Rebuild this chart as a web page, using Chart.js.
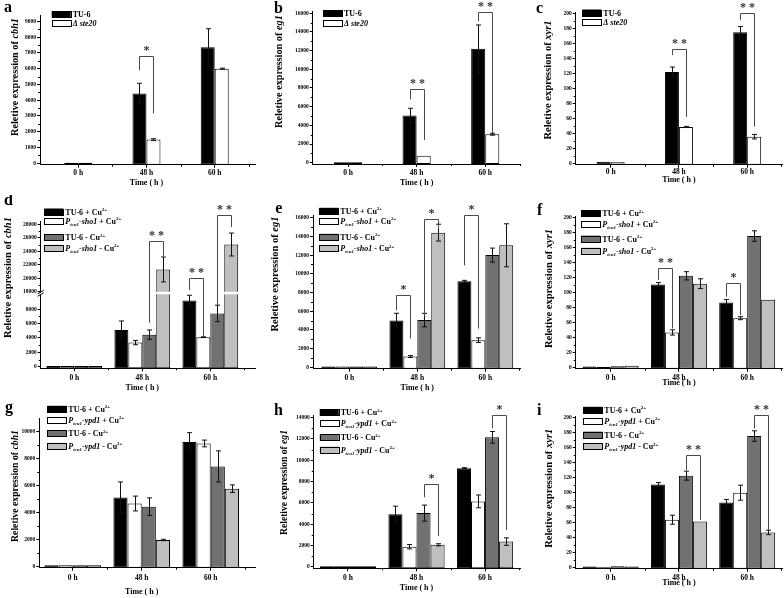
<!DOCTYPE html>
<html>
<head>
<meta charset="utf-8">
<script src="https://cdn.jsdelivr.net/npm/chart.js@4.4.0/dist/chart.umd.min.js"></script>
<style>
body{margin:0;background:#fff}
#fig{position:relative;width:784px;height:598px;overflow:hidden;background:#fff}
#fig canvas{position:absolute}
</style>
</head>
<body>
<div id="fig"></div>
<script>
// categories and legend texts (*..* italic, _{..} subscript, ^{..} superscript)
const times = ['0 h', '48 h', '60 h'];
const ste20Labels = ['TU-6', '*Δ ste20*'];
const sho1Labels = ['TU-6 + Cu^{2+}', '*P*_{tcu1}*-sho1* + Cu^{2+}', 'TU-6 - Cu^{2+}', '*P*_{tcu1}*-sho1* - Cu^{2+}'];
const ypd1Labels = ['TU-6 + Cu^{2+}', '*P*_{tcu1}*-ypd1* + Cu^{2+}', 'TU-6 - Cu^{2+}', '*P*_{tcu1}*-ypd1* - Cu^{2+}'];

// values per series (rows) and time point (columns), with error bars
const aVals = [[40, 4430, 7350], [30, 1500, 6000]];
const aErrs = [[0, 640, 1180], [0, 60, 30]];
const bVals = [[60, 5050, 12200], [50, 750, 3050]];
const bErrs = [[0, 780, 2550], [0, 0, 100]];
const cVals = [[2, 122, 175], [1.5, 48.5, 35.5]];
const cErrs = [[0, 6.5, 7.5], [0, 0.8, 3]];
const dVals = [[100, 5100, 9200], [100, 3350, 4100], [100, 4450, 7400], [100, 21300, 25000]];
const dErrs = [[0, 1250, 720], [0, 300, 50], [0, 650, 1150], [0, 1850, 1700]];
const eVals = [[80, 5000, 9200], [80, 1150, 2900], [80, 5050, 12000], [80, 14400, 13050]];
const eErrs = [[0, 780, 100], [0, 100, 250], [0, 720, 750], [0, 900, 2300]];
const fVals = [[1.5, 111, 87], [1, 47, 66], [2, 122.5, 175.5], [2.5, 112, 90.5]];
const fErrs = [[0, 2.5, 4], [0, 3.5, 2], [0, 5.5, 7], [0, 6.5, 0]];
const gVals = [[80, 5100, 9200], [80, 4650, 9100], [80, 4420, 7400], [80, 1950, 5750]];
const gErrs = [[0, 1150, 700], [0, 550, 250], [0, 650, 1150], [0, 50, 280]];
const hVals = [[80, 4950, 9250], [80, 1900, 6150], [80, 5050, 12150], [80, 2080, 2380]];
const hErrs = [[0, 750, 60], [0, 200, 600], [0, 750, 550], [0, 100, 350]];
const iVals = [[1.5, 111, 87], [0.5, 64, 100], [2, 122.7, 175.5], [1.5, 61.5, 47]];
const iErrs = [[0, 2.5, 4], [0, 6, 10], [0, 6, 7], [0, 0, 3]];

// y tick labels
const aTicks = [0, 1000, 2000, 3000, 4000, 5000, 6000, 7000, 8000, 9000];
const bTicks = [0, 2000, 4000, 6000, 8000, 10000, 12000, 14000, 16000];
const cTicks = [0, 20, 40, 60, 80, 100, 120, 140, 160, 180, 200];
const dTicks = [0, 2000, 4000, 6000, 8000, 18000, 20000, 22000, 24000, 26000, 28000];
const eTicks = [0, 2000, 4000, 6000, 8000, 10000, 12000, 14000, 16000];
const fTicks = [0, 20, 40, 60, 80, 100, 120, 140, 160, 180, 200];
const gTicks = [0, 2000, 4000, 6000, 8000, 10000];
const hTicks = [0, 2000, 4000, 6000, 8000, 10000, 12000, 14000];
const iTicks = [0, 20, 40, 60, 80, 100, 120, 140, 160, 180, 200];

// significance brackets: [time index, series A, series B, top, end A, end B, mark]
const aSig = [[1, 0, 1, 6800, 5900, 3170, '*']];
const bSig = [[1, 0, 1, 7850, 6790, 2430, '**'], [2, 0, 1, 16170, 15170, 3150, '**']];
const cSig = [[1, 0, 1, 153, 144.5, 62, '**'], [2, 0, 1, 201, 191, 48.8, '**']];
const dSig = [[1, 2, 3, 25500, 6100, 23200, '**'], [2, 0, 1, 20000, 18250, 4170, '**'], [2, 2, 3, 29380, 8570, 27600, '**']];
const eSig = [[1, 0, 1, 7700, 6100, 3070, '*'], [1, 2, 3, 15900, 5500, 14800, '*'], [2, 0, 1, 16300, 10900, 4140, '*']];
const fSig = [[1, 0, 1, 133.3, 116.9, 52.4, '**'], [2, 0, 1, 113.3, 94.7, 70.2, '*']];
const gSig = [];
const hSig = [[1, 2, 3, 7780, 6530, 2900, '*'], [2, 2, 3, 14250, 13000, 3470, '*']];
const iSig = [[1, 2, 3, 150.2, 130.2, 63.6, '**'], [2, 2, 3, 203.6, 185.8, 50.2, '**']];

const SERIF = '"Liberation Serif", "Times New Roman", serif';
const fills = ['#000000', '#ffffff', '#717171', '#bfbfbf'];

const panels = [
  {id: 'a', gene: 'cbh1', labels: ste20Labels, vals: aVals, errs: aErrs, ticks: aTicks, sig: aSig},
  {id: 'b', gene: 'eg1', labels: ste20Labels, vals: bVals, errs: bErrs, ticks: bTicks, sig: bSig},
  {id: 'c', gene: 'xyr1', labels: ste20Labels, vals: cVals, errs: cErrs, ticks: cTicks, sig: cSig},
  {id: 'd', gene: 'cbh1', labels: sho1Labels, vals: dVals, errs: dErrs, ticks: dTicks, sig: dSig},
  {id: 'e', gene: 'eg1', labels: sho1Labels, vals: eVals, errs: eErrs, ticks: eTicks, sig: eSig},
  {id: 'f', gene: 'xyr1', labels: sho1Labels, vals: fVals, errs: fErrs, ticks: fTicks, sig: fSig},
  {id: 'g', gene: 'cbh1', labels: ypd1Labels, vals: gVals, errs: gErrs, ticks: gTicks, sig: gSig},
  {id: 'h', gene: 'eg1', labels: ypd1Labels, vals: hVals, errs: hErrs, ticks: hTicks, sig: hSig},
  {id: 'i', gene: 'xyr1', labels: ypd1Labels, vals: iVals, errs: iErrs, ticks: iTicks, sig: iSig}
];

// placement of each panel (pixels inside its own canvas)
const layout = {
  a: {x: 0, y: 0, w: 262, h: 195, left: 40, right: 255, top: 15, bottom: 164.7, yMin: -90, yMax: 9400, xMin: -0.56, xMax: 2.59, cat: 0.41, tickY: 173.3, timeY: 182.7, tx: 15, ty: 77, tlen: 118, lx: 4, ly: 12, legX: 51.7, legY: [14.2, 23.3]},
  b: {x: 262, y: 0, w: 262, h: 195, left: 50.7, right: 258, top: 11.7, bottom: 164, yMin: -140, yMax: 16170, xMin: -0.515, xMax: 2.507, cat: 0.41, tickY: 173.3, timeY: 182.7, tx: 16.7, ty: 71.5, tlen: 113, lx: 12, ly: 13, legX: 61, legY: [13.3, 22.7]},
  c: {x: 524, y: 0, w: 260, h: 195, left: 51.7, right: 258, top: 12.7, bottom: 164.7, yMin: -1.9, yMax: 201, xMin: -0.512, xMax: 2.51, cat: 0.41, tickY: 172.5, timeY: 180, tx: 24, ty: 80, tlen: 134, lx: 12, ly: 13, legX: 58.3, legY: [12.7, 22.3]},
  d: {x: 0, y: 195, w: 262, h: 200, left: 40.7, right: 255, top: 26.7, bottom: 173.3, yMin: -222, yMax: 20139, xMin: -0.494, xMax: 2.657, cat: 0.82, tickY: 183.3, timeY: 192.7, tx: 8, ty: 82.5, tlen: 135, lx: 4, ly: 10, legX: 44.3, legY: [16.7, 25.7, 42.3, 53],
      brk: {from: 18000, to: 10417, k: 0.936, lo: 10060, hi: 10400}},
  e: {x: 262, y: 195, w: 262, h: 200, left: 51, right: 258, top: 20.7, bottom: 173.7, yMin: -150, yMax: 16214, xMin: -0.534, xMax: 2.51, cat: 0.82, tickY: 183.3, timeY: 192.7, tx: 12.7, ty: 79, tlen: 118, lx: 13.3, ly: 18, legX: 57.3, legY: [16, 25.7, 42, 53.3]},
  f: {x: 524, y: 195, w: 260, h: 200, left: 51.7, right: 258, top: 21.7, bottom: 173.7, yMin: -1.33, yMax: 201.3, xMin: -0.512, xMax: 2.51, cat: 0.82, tickY: 182.7, timeY: 188.3, tx: 25, ty: 93.5, tlen: 127, lx: 13, ly: 20, legX: 57.3, legY: [18.2, 28.7, 43.7, 55.8]},
  g: {x: 0, y: 395, w: 262, h: 203, left: 39.3, right: 255, top: 23.3, bottom: 172.7, yMin: -104, yMax: 10963, xMin: -0.484, xMax: 2.642, cat: 0.82, tickY: 183.3, timeY: 197.3, tx: 15, ty: 91, tlen: 112, lx: 5, ly: 17, legX: 47.3, legY: [14, 25, 38.5, 51]},
  h: {x: 262, y: 395, w: 262, h: 203, left: 51.7, right: 258, top: 20.7, bottom: 173.3, yMin: -122, yMax: 14180, xMin: -0.5, xMax: 2.51, cat: 0.82, tickY: 183.3, timeY: 192.7, tx: 21.7, ty: 87.5, tlen: 105, lx: 12, ly: 20, legX: 57.7, legY: [17.3, 28.5, 42.3, 54.7]},
  i: {x: 524, y: 395, w: 260, h: 203, left: 51.7, right: 258, top: 21.7, bottom: 173.7, yMin: -1.33, yMax: 201.3, xMin: -0.512, xMax: 2.51, cat: 0.82, tickY: 182.7, timeY: 188.3, tx: 25, ty: 93.3, tlen: 123, lx: 13, ly: 20, legX: 59.3, legY: [15, 25.7, 39.7, 51.3]}
};

function tr(v, brk) {
  return (!brk || v < brk.from) ? v : brk.to + (v - brk.from) * brk.k;
}

function parseRich(s) {
  const segs = [];
  let it = false, buf = '', i = 0;
  const flush = () => { if (buf) segs.push({t: buf, it: it, mode: ''}); buf = ''; };
  while (i < s.length) {
    const c = s[i];
    if (c === '*') { flush(); it = !it; i++; }
    else if ((c === '_' || c === '^') && s[i + 1] === '{') {
      flush();
      const j = s.indexOf('}', i);
      segs.push({t: s.slice(i + 2, j), it: c === '_' ? true : it, mode: c === '_' ? 'sub' : 'sup'});
      i = j + 1;
    } else { buf += c; i++; }
  }
  flush();
  return segs;
}

function richWidth(ctx, segs, size) {
  let w = 0;
  segs.forEach(s => {
    ctx.font = (s.it ? 'italic ' : '') + 'bold ' + (s.mode ? size * 0.62 : size) + 'px ' + SERIF;
    s.w = ctx.measureText(s.t).width;
    w += s.w;
  });
  return w;
}

function drawRich(ctx, segs, x, y, size, center) {
  const w = richWidth(ctx, segs, size);
  let cx = center ? x - w / 2 : x;
  ctx.textAlign = 'left';
  ctx.textBaseline = 'alphabetic';
  ctx.fillStyle = '#000';
  segs.forEach(s => {
    ctx.font = (s.it ? 'italic ' : '') + 'bold ' + (s.mode ? size * 0.62 : size) + 'px ' + SERIF;
    const dy = s.mode === 'sub' ? size * 0.25 : s.mode === 'sup' ? -size * 0.42 : 0;
    ctx.fillText(s.t, cx, y + dy);
    cx += s.w;
  });
}

function seg(ctx, x1, y1, x2, y2) {
  ctx.beginPath();
  ctx.moveTo(x1, y1);
  ctx.lineTo(x2, y2);
  ctx.stroke();
}

const fig = document.getElementById('fig');

panels.forEach(p => {
  const L = layout[p.id];
  const T = v => tr(v, L.brk);

  const cv = document.createElement('canvas');
  cv.width = L.w;
  cv.height = L.h;
  cv.style.left = L.x + 'px';
  cv.style.top = L.y + 'px';
  fig.appendChild(cv);

  // bars stand on the axis line, which sits a little below zero
  const datasets = p.vals.map((vals, k) => ({
    label: p.labels[k],
    data: vals.map((v, i) => ({x: i, y: T(v)})),
    errLo: vals.map((v, i) => T(v - p.errs[k][i])),
    errHi: vals.map((v, i) => T(v + p.errs[k][i])),
    hasErr: p.errs[k].map(e => e > 0),
    base: L.yMin,
    backgroundColor: fills[k],
    borderColor: '#000',
    borderWidth: 1,
    borderSkipped: false,
    categoryPercentage: L.cat,
    barPercentage: 1
  }));

  const deco = {
    id: 'deco',
    afterDatasetsDraw(chart) {
      const {ctx, chartArea: a, scales: {x, y}} = chart;
      ctx.save();
      // white gap of the broken axis
      if (L.brk) {
        const y1 = y.getPixelForValue(L.brk.hi), y2 = y.getPixelForValue(L.brk.lo);
        ctx.fillStyle = '#fff';
        ctx.fillRect(a.left + 1, y1, a.right - a.left, y2 - y1);
      }
      // error bars
      ctx.strokeStyle = '#111';
      ctx.lineWidth = 1;
      chart.data.datasets.forEach((ds, k) => {
        chart.getDatasetMeta(k).data.forEach((bar, i) => {
          if (!ds.hasErr[i]) return;
          const bx = Math.round(bar.x) + 0.5;
          const yh = y.getPixelForValue(ds.errHi[i]);
          const yl = y.getPixelForValue(ds.errLo[i]);
          seg(ctx, bx, yh, bx, yl);
          seg(ctx, bx - 2.5, yh, bx + 2.5, yh);
          seg(ctx, bx - 2.5, yl, bx + 2.5, yl);
        });
      });
      // significance brackets
      p.sig.forEach(s => {
        const xa = Math.round(chart.getDatasetMeta(s[1]).data[s[0]].x) + 0.5;
        const xb = Math.round(chart.getDatasetMeta(s[2]).data[s[0]].x) + 0.5;
        const yt = Math.round(y.getPixelForValue(T(s[3]))) + 0.5;
        const ya = y.getPixelForValue(T(s[4]));
        const yb = y.getPixelForValue(T(s[5]));
        ctx.strokeStyle = '#4a4a4a';
        ctx.beginPath();
        ctx.moveTo(xa, ya);
        ctx.lineTo(xa, yt);
        ctx.lineTo(xb, yt);
        ctx.lineTo(xb, yb);
        ctx.stroke();
        ctx.fillStyle = '#333';
        ctx.font = 'bold 12px ' + SERIF;
        ctx.textAlign = 'center';
        ctx.textBaseline = 'alphabetic';
        ctx.fillText(s[6] === '**' ? '* *' : '*', (xa + xb) / 2, yt - 2.5);
      });
      ctx.restore();
    },
    afterDraw(chart) {
      const {ctx, chartArea: a, scales: {x, y}} = chart;
      ctx.save();
      ctx.strokeStyle = '#000';
      ctx.lineWidth = 1;
      // minor ticks
      const step = p.ticks[1] - p.ticks[0];
      for (let i = 0; i + 1 < p.ticks.length; i++) {
        if (p.ticks[i + 1] - p.ticks[i] !== step) continue;
        const py = Math.round(y.getPixelForValue(T((p.ticks[i] + p.ticks[i + 1]) / 2))) + 0.5;
        seg(ctx, a.left - 2, py, a.left, py);
      }
      [0.5, 1.5, 2.5].forEach(v => {
        if (v >= L.xMax) return;
        const px = Math.round(x.getPixelForValue(v)) + 0.5;
        seg(ctx, px, a.bottom, px, a.bottom + 2);
      });
      // axis break marks
      if (L.brk) {
        const y1 = y.getPixelForValue(L.brk.hi), y2 = y.getPixelForValue(L.brk.lo);
        ctx.fillStyle = '#fff';
        ctx.fillRect(a.left - 1, y1 + 0.5, 3, y2 - y1);
        seg(ctx, a.left - 3, y1 + 2, a.left + 3, y1 - 1.5);
        seg(ctx, a.left - 3, y2 + 2, a.left + 3, y2 - 1.5);
      }
      // panel letter
      ctx.fillStyle = '#000';
      ctx.font = 'bold 16px ' + SERIF;
      ctx.textAlign = 'left';
      ctx.textBaseline = 'alphabetic';
      ctx.fillText(p.id, L.lx, L.ly);
      // x title
      ctx.font = 'bold 8px ' + SERIF;
      ctx.textAlign = 'center';
      ctx.textBaseline = 'middle';
      ctx.fillText('Time ( h )', x.getPixelForValue(1), L.timeY);
      // y title, sized to the length seen in the figure
      const tseg = parseRich('Reletive expression of *' + p.gene + '*');
      const size = Math.max(7.5, Math.min(10.5, 9 * L.tlen / richWidth(ctx, tseg, 9)));
      ctx.save();
      ctx.translate(L.tx, L.ty);
      ctx.rotate(-Math.PI / 2);
      drawRich(ctx, tseg, 0, size * 0.33, size, true);
      ctx.restore();
      // legend
      p.labels.forEach((lab, k) => {
        const ry = L.legY[k];
        ctx.fillStyle = fills[k];
        ctx.fillRect(L.legX, ry - 3.2, 19, 6.5);
        ctx.strokeStyle = '#000';
        ctx.strokeRect(Math.round(L.legX) + 0.5, Math.round(ry - 3.2) + 0.5, 19, 6);
        drawRich(ctx, parseRich(lab), L.legX + 21, ry + 2.8, 8, false);
      });
      ctx.restore();
    }
  };

  new Chart(cv, {
    type: 'bar',
    data: {datasets: datasets},
    options: {
      responsive: false,
      animation: false,
      devicePixelRatio: 1,
      layout: {padding: {top: L.top, right: L.w - L.right, bottom: 0, left: 0}},
      plugins: {legend: {display: false}, tooltip: {enabled: false}},
      scales: {
        x: {
          type: 'linear',
          min: L.xMin,
          max: L.xMax,
          bounds: 'data',
          offset: false,
          afterBuildTicks: s => { s.ticks = times.map((t, i) => ({value: i})); },
          afterFit: s => { s.height = L.h - L.bottom; },
          ticks: {
            callback: (v, i) => times[i],
            autoSkip: false,
            maxRotation: 0,
            color: '#000',
            padding: L.tickY - L.bottom - 3 - 4.5,
            font: {family: SERIF, size: 7.5, weight: 'bold'}
          },
          grid: {display: true, offset: false, drawOnChartArea: false, tickLength: 3, color: '#000'},
          border: {display: true, color: '#000', width: 1}
        },
        y: {
          type: 'linear',
          min: L.yMin,
          max: L.yMax,
          bounds: 'data',
          afterBuildTicks: s => { s.ticks = p.ticks.map(t => ({value: T(t)})); },
          afterFit: s => { s.width = L.left; },
          ticks: {
            callback: (v, i) => String(p.ticks[i]),
            autoSkip: false,
            color: '#000',
            padding: 1,
            font: {family: SERIF, size: 5.5, weight: 'bold'}
          },
          grid: {display: true, drawOnChartArea: false, tickLength: 3, color: '#000'},
          border: {display: true, color: '#000', width: 1}
        }
      }
    },
    plugins: [deco]
  });
});
</script>
</body>
</html>
